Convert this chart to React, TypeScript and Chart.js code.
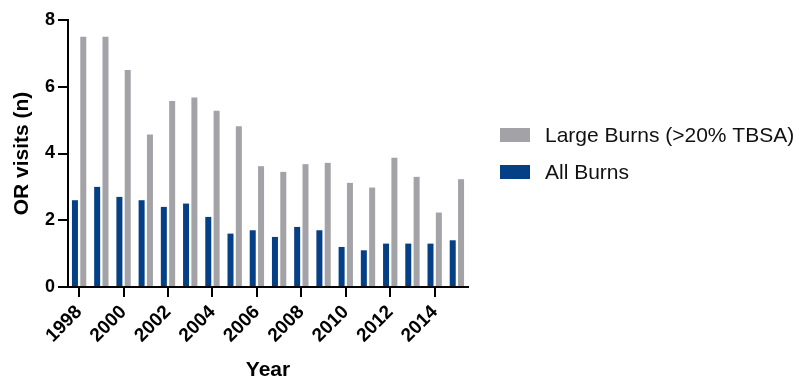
import React, { useEffect, useRef } from "react";
import { Chart, registerables } from "chart.js";

Chart.register(...registerables);

// Operating-room visits per admission, by year
const years = [
  "1998", "1999", "2000", "2001", "2002", "2003", "2004", "2005", "2006",
  "2007", "2008", "2009", "2010", "2011", "2012", "2013", "2014", "2015",
];
const allBurns = [2.6, 3.0, 2.7, 2.6, 2.4, 2.5, 2.1, 1.6, 1.7, 1.5, 1.8, 1.7, 1.2, 1.1, 1.3, 1.3, 1.3, 1.4];
const largeBurns = [7.5, 7.5, 6.5, 4.57, 5.57, 5.68, 5.28, 4.82, 3.62, 3.45, 3.68, 3.72, 3.12, 2.98, 3.87, 3.3, 2.23, 3.23];
const yTicks = [0, 2, 4, 6, 8];

const FONT = '"Liberation Sans", Arial, Helvetica, sans-serif';
const BLUE = "#053f86";
const GRAY = "#a2a2a7";

// Legend drawn to the right of the plot, "Large Burns" listed first
const sideLegend = {
  id: "sideLegend",
  afterDraw(chart: any) {
    const ctx = chart.ctx;
    const items = chart.data.datasets.slice().reverse();
    ctx.save();
    ctx.font = `21px ${FONT}`;
    ctx.textBaseline = "middle";
    ctx.textAlign = "left";
    items.forEach((ds: any, i: number) => {
      const cy = 135 + i * 37;
      ctx.fillStyle = ds.backgroundColor;
      ctx.fillRect(500, cy - 7, 30, 14);
      ctx.fillStyle = "#111";
      ctx.fillText(ds.label, 545, cy + 1);
    });
    ctx.restore();
  },
};

export default function App() {
  const canvasRef = useRef<HTMLCanvasElement | null>(null);

  useEffect(() => {
    if (!canvasRef.current) return;
    const chart = new Chart(canvasRef.current, {
      type: "bar",
      data: {
        labels: years,
        datasets: [
          {
            label: "All Burns",
            data: allBurns,
            backgroundColor: BLUE,
            categoryPercentage: 0.75,
            barPercentage: 0.72,
          },
          {
            label: "Large Burns (>20% TBSA)",
            data: largeBurns,
            backgroundColor: GRAY,
            categoryPercentage: 0.75,
            barPercentage: 0.72,
          },
        ],
      },
      options: {
        responsive: false,
        animation: false,
        devicePixelRatio: 1,
        layout: { padding: { top: 20, right: 336, bottom: 0, left: 0 } },
        plugins: {
          legend: { display: false },
          tooltip: { enabled: false },
        },
        scales: {
          x: {
            offset: true,
            afterFit: (scale: any) => {
              scale.height = 91;
            },
            grid: {
              display: true,
              offset: false,
              drawOnChartArea: false,
              drawTicks: true,
              tickLength: 10,
              lineWidth: 2,
              color: (ctx: any) => (ctx.index % 2 === 0 ? "#000" : "rgba(0,0,0,0)"),
            },
            border: { display: true, color: "#000", width: 2 },
            ticks: {
              autoSkip: false,
              maxRotation: 45,
              minRotation: 45,
              padding: 4,
              color: "#000",
              font: { family: FONT, size: 19, weight: "bold" },
              callback: (_v: any, index: number) => (index % 2 === 0 ? years[index] : ""),
            },
            title: {
              display: true,
              text: "Year",
              color: "#000",
              font: { family: FONT, size: 21, weight: "bold", lineHeight: 1 },
              padding: { top: 0, bottom: -3 },
            },
          },
          y: {
            min: 0,
            max: 8,
            afterFit: (scale: any) => {
              scale.width = 68;
            },
            afterBuildTicks: (scale: any) => {
              scale.ticks = yTicks.map((v) => ({ value: v }));
            },
            grid: {
              display: true,
              drawOnChartArea: false,
              drawTicks: true,
              tickLength: 10,
              lineWidth: 2,
              color: "#000",
            },
            border: { display: true, color: "#000", width: 2 },
            ticks: {
              padding: 3,
              color: "#000",
              font: { family: FONT, size: 18, weight: "bold" },
            },
            title: {
              display: true,
              text: "OR visits (n)",
              color: "#000",
              font: { family: FONT, size: 21, weight: "bold", lineHeight: 1 },
              padding: { top: 12, bottom: 0 },
            },
          },
        },
      },
      plugins: [sideLegend],
    } as any);
    return () => chart.destroy();
  }, []);

  return (
    <div
      style={{
        position: "fixed",
        left: 0,
        top: 0,
        width: 804,
        height: 378,
        background: "#fff",
        overflow: "hidden",
      }}
    >
      <canvas ref={canvasRef} width={804} height={378} style={{ display: "block" }} />
    </div>
  );
}
